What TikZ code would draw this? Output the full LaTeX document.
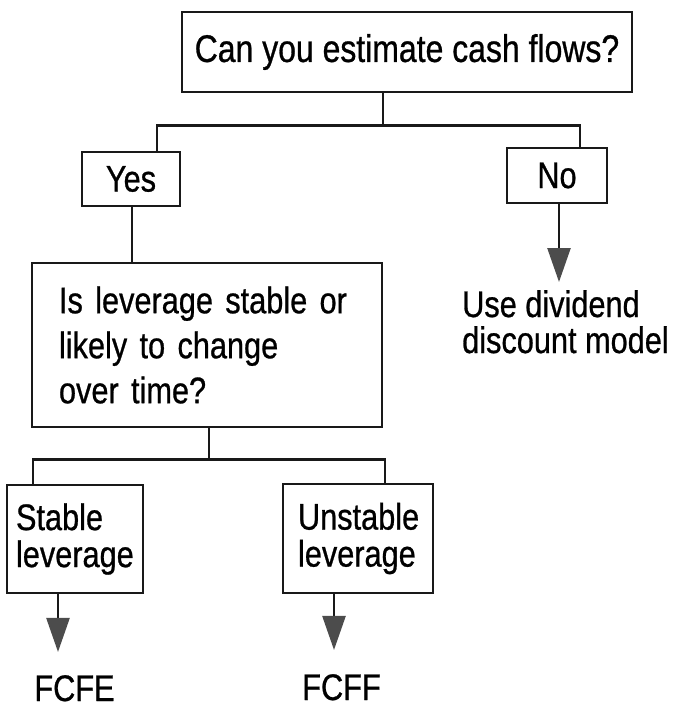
\documentclass[tikz,border=0pt]{standalone}
\usepackage{fontspec}
\setmainfont[FakeStretch=0.83, FakeBold=0.7]{Liberation Sans}
\usepackage{tikz}
\usetikzlibrary{arrows.meta}

\begin{document}
\begin{tikzpicture}[
            x=1pt, y=-1pt, % one unit is one pixel, y runs downwards
            box/.style={rectangle, draw=black!90, line width=2.7pt, inner sep=0pt, font=\fontsize{37}{37}\selectfont}, % framed boxes
            connector/.style={draw=black!90, line width=2.5pt}, % plain joining lines
            pointer/.style={draw=black!90, line width=2.5pt, -{Triangle[length=34pt, width=23pt, color=black!70]}}, % lines ending in a grey head
            answer/.style={inner sep=0pt, font=\fontsize{37}{37}\selectfont} % text without a frame
            ]

    \useasboundingbox (0,0) rectangle (677,709);

    % first question and its two answers
    \node[box, minimum width=450pt, minimum height=80pt, font=\fontsize{38.5}{38.5}\selectfont] (cashq) at (407,52) {Can you estimate cash flows?};
    \node[box, minimum width=98pt, minimum height=54pt] (yes) at (131,179) {Yes};
    \node[box, minimum width=100pt, minimum height=55pt] (no) at (557,175.5) {No};
    \node[answer, anchor=north west, align=left, font=\fontsize{37}{36}\selectfont] (ddm) at (462,290) {Use dividend\\discount model};

    % second question and its two answers
    \node[box, minimum width=350pt, minimum height=164pt, text width=296pt, inner xsep=27pt, align=left, font=\fontsize{37}{45}\selectfont] (levq) at (207,345) {Is leverage stable or\\likely to change\\over time?};
    \node[box, minimum width=136pt, minimum height=108pt, text width=118pt, inner xsep=9pt, align=left] (stable) at (75,539) {Stable\\leverage};
    \node[box, minimum width=150pt, minimum height=109pt, text width=120pt, inner xsep=15pt, align=left] (unstable) at (358,538.5) {Unstable\\leverage};
    \node[answer, anchor=base] (fcfe) at (74.5,701) {FCFE};
    \node[answer, anchor=base] (fcff) at (341.5,700) {FCFF};

    % joining lines
    \draw[connector] ([xshift=-24pt]cashq.south) -- ++(0,32) coordinate (fork1);
    \draw[connector] ([xshift=26pt]yes.north) |- (fork1) -| ([xshift=23pt]no.north);
    \draw[connector] ([xshift=1pt]yes.south) -- ([xshift=1pt]yes.south |- levq.north);
    \draw[connector] ([xshift=2pt]levq.south) -- ++(0,31) coordinate (fork2);
    \draw[connector] ([xshift=-42pt]stable.north) |- (fork2) -| ([xshift=27pt]unstable.north);

    % arrows to the methods
    \draw[pointer, shorten >=8pt] ([xshift=2pt]no.south) -- ([xshift=2pt]no.south |- ddm.north);
    \draw[pointer, shorten >=23pt] ([xshift=-17pt]stable.south) -- ([xshift=-17pt]stable.south |- fcfe.north);
    \draw[pointer, shorten >=24pt] ([xshift=-24pt]unstable.south) -- ([xshift=-24pt]unstable.south |- fcff.north);

\end{tikzpicture}
\end{document}
